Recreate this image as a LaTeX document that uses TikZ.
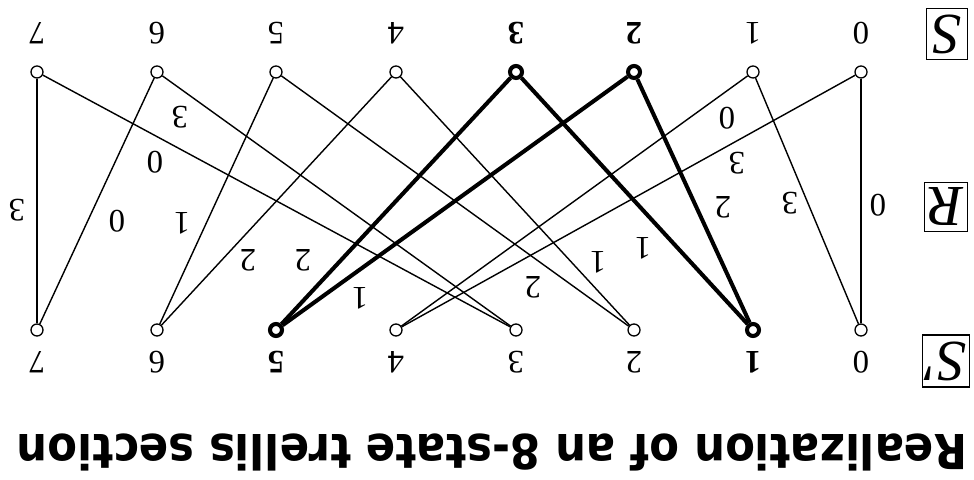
\documentclass[tikz,border=0pt]{standalone}
\usepackage{fontspec}
\setmainfont{Liberation Serif}
\newfontfamily\titlefont{DejaVu Sans}[FakeStretch=0.9]
\usepackage{tikz}
\usetikzlibrary{positioning}
\tikzset{
 state/.style={circle, draw, fill=white, line width=0.37pt, minimum size=0.12cm, inner sep=0pt},
 statesel/.style={state, line width=1.15pt},
 branch/.style={line width=0.4pt},
 branchsel/.style={line width=1.15pt},
 lbl/.style={rotate=180, inner sep=0pt, font=\fontsize{9.3}{11}\selectfont},
 lblsel/.style={lbl, font=\fontsize{9.3}{11}\selectfont\bfseries},
 setbox/.style={draw, rotate=180, line width=0.4pt, inner sep=0pt, font=\fontsize{16.5}{19}\selectfont\itshape}
}
% #1 name, #2 x, #3 y of state, #4 y of number, #5 number, #6 selected
\newcommand{\stnode}[6]{%
\ifnum#6=1
 \node[statesel] (#1) at (#2,#3) {};%
 \node[lblsel] (#1n) at (#2,#4) {#5};%
\else
 \node[state] (#1) at (#2,#3) {};%
 \node[lbl] (#1n) at (#2,#4) {#5};%
\fi}

\begin{document}
\begin{tikzpicture}[x=0.01cm, y=-0.01cm]
\useasboundingbox (0,0) rectangle (974,480);
\foreach \i/\x/\b in {0/861/0, 1/753/0, 2/634/1, 3/516/1, 4/396/0, 5/276/0, 6/157/0, 7/37/0}
 \stnode{s\i}{\x}{72}{33}{\i}{\b};
\foreach \i/\x/\b in {0/861/0, 1/753/1, 2/634/0, 3/516/0, 4/396/0, 5/276/1, 6/157/0, 7/37/0}
 \stnode{p\i}{\x}{330}{362}{\i}{\b};
% branches
\foreach \a/\b in {0/0, 0/4, 1/0, 1/4, 4/2, 4/6, 5/2, 5/6, 6/3, 6/7, 7/3, 7/7}
 \draw[branch] (s\a) -- (p\b);
\foreach \a/\b in {2/1, 2/5, 3/1, 3/5}
 \draw[branchsel] (s\a) -- (p\b);
% branch labels
\foreach \x/\y/\t [count=\k] in {878/205/0, 790/203/3, 737/163/3, 727/118/0, 723/207/2, 643/248/1, 598/262/1, 533/287/2, 360/298/1, 303/260/2, 248/260/2, 182/223/1, 117/221/0, 155/162/0, 180/117/3, 17/210/3}
 \node[lbl] (w\k) at (\x,\y) {\t};
% set names
\node[setbox, minimum width=0.41cm, minimum height=0.51cm] (setS) at (947,34) {S};
\node[setbox, minimum width=0.43cm, minimum height=0.49cm] (setR) at (946,207) {R};
\node[setbox, minimum width=0.47cm, minimum height=0.52cm] (setSp) at (946,361) {S′};
\node[rotate=180, anchor=base, font=\titlefont\bfseries\fontsize{13.7}{16}\selectfont] (title) at (492,435) {Realization of an 8-state trellis section};
\end{tikzpicture}
\end{document}
